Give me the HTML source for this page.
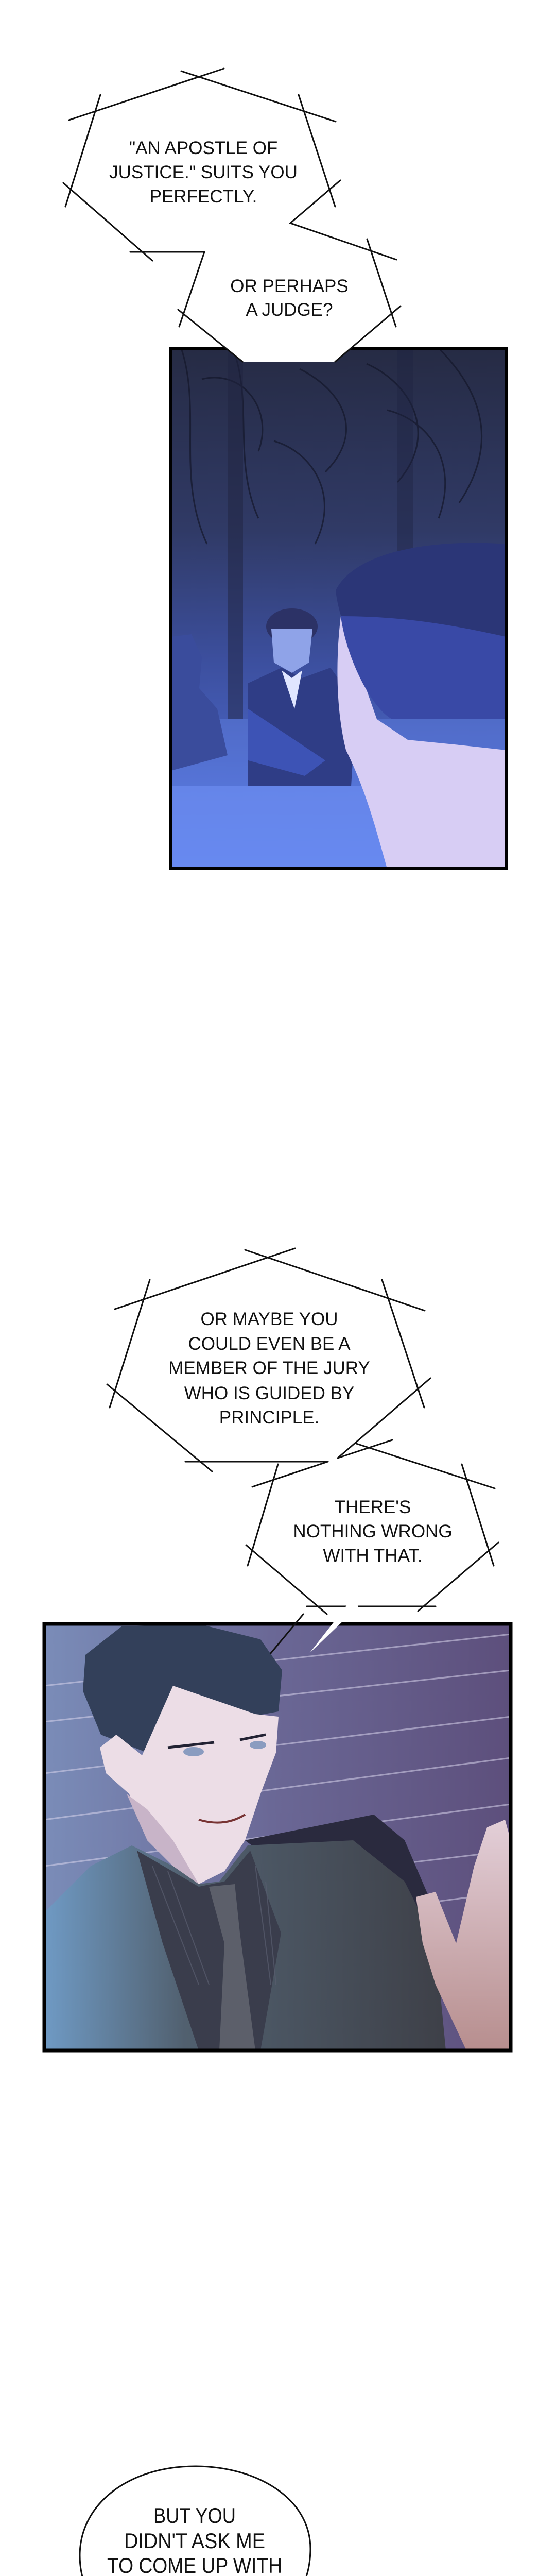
<!DOCTYPE html>
<html><head><meta charset="utf-8"><style>
html,body{margin:0;padding:0;background:#fff}
body{width:1080px;height:5120px;position:relative;overflow:hidden}
svg{position:absolute;left:0;top:0;display:block}
.t{font-family:"Liberation Sans",sans-serif;font-size:35px;fill:#111;text-anchor:middle}
.n{font-family:"Liberation Sans Narrow","Liberation Sans",sans-serif;font-size:42px;fill:#111;text-anchor:middle}
</style></head><body>
<svg width="1080" height="5120" viewBox="0 0 1080 5120">
<defs>
<linearGradient id="p1" x1="0" y1="0" x2="0" y2="1">
<stop offset="0" stop-color="#262b44"/><stop offset="0.35" stop-color="#303a66"/><stop offset="0.6" stop-color="#3c4f9e"/><stop offset="1" stop-color="#5577e6"/></linearGradient>
<linearGradient id="p2" x1="0" y1="0" x2="1" y2="0">
<stop offset="0" stop-color="#7a8cb8"/><stop offset="0.5" stop-color="#6a6795"/><stop offset="1" stop-color="#5d4f7c"/></linearGradient>
<linearGradient id="suit" x1="0" y1="0" x2="1" y2="0">
<stop offset="0" stop-color="#6f9ac4"/><stop offset="0.35" stop-color="#51606f"/><stop offset="1" stop-color="#3e4048"/></linearGradient>
<linearGradient id="hand" x1="0" y1="0" x2="0" y2="1">
<stop offset="0" stop-color="#e3cfd8"/><stop offset="1" stop-color="#b78e8e"/></linearGradient>
</defs>

<g transform="translate(332,676)">
<rect width="651" height="1010" fill="url(#p1)"/>
<g stroke="#14172a" stroke-width="3" fill="none" opacity="0.7">
<path d="M20 0 C60 120 10 250 70 380"/><path d="M120 0 C160 100 120 220 170 330"/>
<path d="M250 40 C330 80 380 160 300 240"/><path d="M380 30 C470 70 520 170 440 260"/>
<path d="M520 0 C600 80 640 180 560 300"/><path d="M60 60 C140 40 200 120 170 200"/>
<path d="M420 120 C500 140 560 220 520 330"/><path d="M200 180 C270 200 330 280 280 380"/>
</g>
<rect x="110" y="0" width="30" height="720" fill="#1f2440" opacity="0.5"/>
<rect x="440" y="0" width="30" height="640" fill="#1f2440" opacity="0.4"/>
<rect x="0" y="720" width="651" height="290" fill="#6b8cf0" opacity="0.35"/>
<path d="M0 560 L40 555 L60 600 L55 660 L90 700 L110 790 L0 820Z" fill="#3a4c9c"/>
<ellipse cx="235" cy="540" rx="50" ry="35" fill="#2c3266"/>
<path d="M195 545 L275 545 L268 610 L235 630 L200 610Z" fill="#8fa3e8"/>
<path d="M150 650 L215 620 L255 640 L310 620 L360 690 L350 850 L150 850Z" fill="#2f3d86"/>
<path d="M215 625 L235 640 L255 625 L240 700Z" fill="#e0e6ff"/>
<path d="M150 700 L240 760 L300 800 L260 830 L150 800Z" fill="#3d53b5"/>
<rect x="0" y="850" width="420" height="160" fill="#6f91f5" opacity="0.6"/>
<path d="M320 470 C360 390 520 370 651 380 L651 720 L420 700 C390 640 330 560 320 470Z" fill="#2b3677"/>
<path d="M330 520 L400 720 L460 760 L560 770 L651 780 L651 1010 L420 1010 C400 940 380 860 340 780 C320 700 320 600 330 520Z" fill="#d7cdf4"/>
<path d="M330 520 C340 600 390 700 430 720 L651 720 L651 560 C560 540 460 520 330 520Z" fill="#3949a6"/>
<rect x="0" y="0" width="651" height="1010" fill="none" stroke="#000" stroke-width="6"/>
</g>
<polygon points="346,601 471,702 651,702 778,594 769,560 350,560" fill="#fff"/>

<g stroke="#111" stroke-width="3" fill="none" stroke-linecap="round">
<line x1="134" y1="233" x2="435" y2="133"/><line x1="352" y1="138" x2="652" y2="236"/>
<line x1="195" y1="184" x2="127" y2="401"/><line x1="580" y1="184" x2="651" y2="401"/>
<line x1="123" y1="355" x2="296" y2="506"/>
<polyline points="661,350 564,433 770,504"/>
<polyline points="253,489 397,489 348,634"/>
<line x1="713" y1="464" x2="769" y2="634"/>
<line x1="346" y1="601" x2="471" y2="702"/><line x1="778" y1="594" x2="651" y2="702"/>
</g>
<text class="t" x="395" y="299">"AN APOSTLE OF</text>
<text class="t" x="395" y="346">JUSTICE." SUITS YOU</text>
<text class="t" x="395" y="393">PERFECTLY.</text>
<text class="t" x="562" y="567">OR PERHAPS</text>
<text class="t" x="562" y="613">A JUDGE?</text>

<g stroke="#111" stroke-width="3" fill="none" stroke-linecap="round">
<line x1="223" y1="2541" x2="573" y2="2423"/><line x1="476" y1="2426" x2="825" y2="2544"/>
<line x1="291" y1="2484" x2="213" y2="2732"/><line x1="742" y1="2484" x2="824" y2="2732"/>
<line x1="208" y1="2687" x2="412" y2="2856"/><line x1="836" y1="2675" x2="656" y2="2830"/>
<line x1="360" y1="2837" x2="637" y2="2837"/>
<line x1="656" y1="2830" x2="762" y2="2795"/><line x1="692" y1="2802" x2="961" y2="2889"/>
<line x1="490" y1="2886" x2="637" y2="2837"/>
<line x1="540" y1="2842" x2="481" y2="3039"/><line x1="897" y1="2842" x2="959" y2="3039"/>
<line x1="478" y1="2999" x2="635" y2="3133"/><line x1="968" y1="2994" x2="812" y2="3127"/>
<line x1="596" y1="3118" x2="672" y2="3118"/><line x1="696" y1="3118" x2="846" y2="3118"/>
</g>
<text class="t" x="523" y="2572">OR MAYBE YOU</text>
<text class="t" x="523" y="2620">COULD EVEN BE A</text>
<text class="t" x="523" y="2667">MEMBER OF THE JURY</text>
<text class="t" x="523" y="2716">WHO IS GUIDED BY</text>
<text class="t" x="523" y="2763">PRINCIPLE.</text>
<text class="t" x="724" y="2937">THERE'S</text>
<text class="t" x="724" y="2984">NOTHING WRONG</text>
<text class="t" x="724" y="3031">WITH THAT.</text>

<g transform="translate(86,3152)">
<rect width="906" height="828" fill="url(#p2)"/>
<g stroke="#d8d4ec" stroke-width="3" opacity="0.55">
<line x1="0" y1="120" x2="906" y2="20"/><line x1="0" y1="190" x2="906" y2="90"/>
<line x1="0" y1="290" x2="906" y2="180"/><line x1="0" y1="380" x2="906" y2="260"/>
<line x1="0" y1="470" x2="906" y2="350"/><line x1="400" y1="500" x2="906" y2="440"/>
<line x1="600" y1="560" x2="906" y2="520"/>
</g>
<path d="M390 420 L640 370 L700 420 L760 560 L700 620 L520 520Z" fill="#2a2a3e"/>
<path d="M80 60 L150 5 L300 0 L420 30 L462 90 L455 170 L400 180 L330 150 L285 220 L260 280 L200 250 L110 215 L75 130Z" fill="#33405a"/>
<path d="M250 120 L410 175 L455 180 L450 250 L420 330 L390 420 L350 480 L300 505 L250 470 L200 420 L165 330 L120 290 L108 240 L140 215 L190 255Z" fill="#ecdde6"/>
<path d="M160 330 L200 420 L250 470 L300 505 L250 420 L200 360Z" fill="#c8b4c8"/>
<path d="M240 240 L330 230 M380 225 L430 215" stroke="#223" stroke-width="5"/>
<ellipse cx="290" cy="248" rx="20" ry="9" fill="#8a9cc0"/><ellipse cx="415" cy="235" rx="16" ry="8" fill="#8a9cc0"/>
<path d="M300 380 Q350 395 390 370" stroke="#733" stroke-width="4" fill="none"/>
<path d="M0 560 L90 470 L170 430 L250 470 L300 505 L340 500 L395 430 L600 420 L700 500 L760 620 L780 828 L0 828Z" fill="url(#suit)"/>
<path d="M180 440 L300 510 L350 500 L400 440 L460 600 L420 828 L300 828 L230 620Z" fill="#3a3d4c"/>
<g stroke="#5a5e70" stroke-width="2" opacity="0.7">
<line x1="210" y1="470" x2="300" y2="700"/><line x1="240" y1="480" x2="320" y2="700"/><line x1="410" y1="470" x2="440" y2="700"/><line x1="430" y1="500" x2="450" y2="700"/>
</g>
<path d="M320 510 L370 505 L380 600 L410 828 L340 828 L350 620Z" fill="#5c5f6a"/>
<path d="M722 530 L760 520 L800 620 L835 470 L860 395 L895 380 L906 420 L906 828 L820 828 L760 700 L735 620Z" fill="url(#hand)"/>
<rect width="906" height="828" fill="none" stroke="#000" stroke-width="7"/>
</g>
<path d="M590 3132 L525 3210" stroke="#111" stroke-width="3"/>
<polygon points="596,3118 696,3118 601,3209 672,3118" fill="#fff"/>

<path d="M557 5063 C640 5058 715 5075 765 5118" fill="none" stroke="#111" stroke-width="3"/>
<path d="M557 5063 C590 5030 603 4990 603 4947 C603 4850 500 4787 379 4787 C250 4787 155 4860 155 4960 C155 5050 220 5100 300 5118" fill="#fff" stroke="#111" stroke-width="3"/>
<text class="n" x="378" y="4897" textLength="160" lengthAdjust="spacingAndGlyphs">BUT YOU</text>
<text class="n" x="378" y="4946" textLength="274" lengthAdjust="spacingAndGlyphs">DIDN'T ASK ME</text>
<text class="n" x="378" y="4994" textLength="340" lengthAdjust="spacingAndGlyphs">TO COME UP WITH</text>
<text class="n" x="378" y="5042" textLength="210" lengthAdjust="spacingAndGlyphs">A DEFENSE.</text>
</svg>
</body></html>
